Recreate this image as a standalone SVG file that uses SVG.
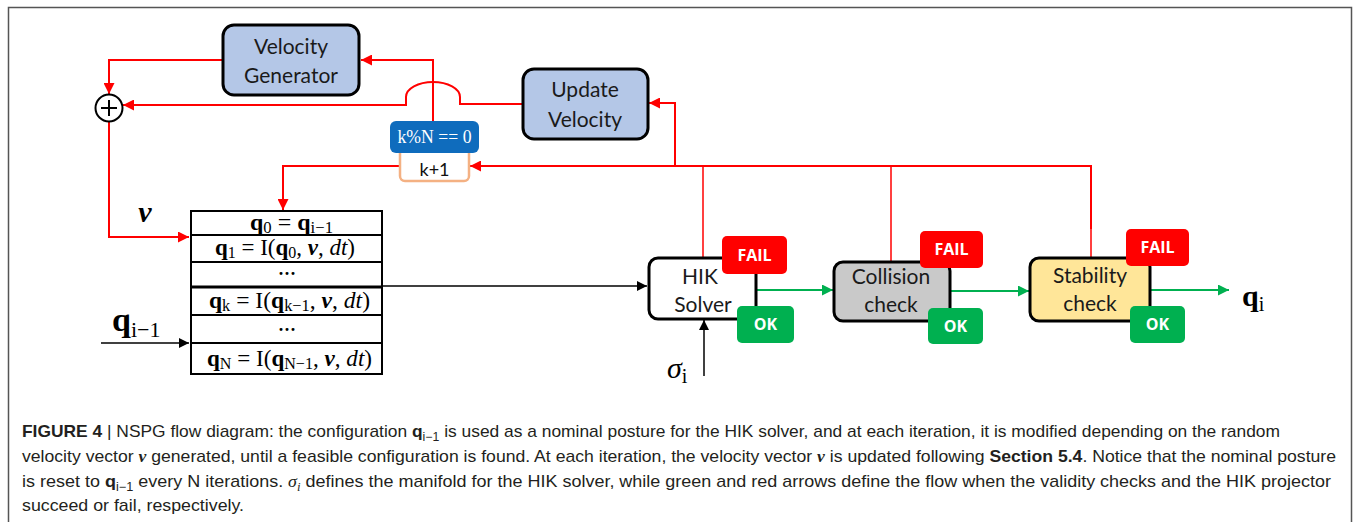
<svg xmlns="http://www.w3.org/2000/svg" width="1356" height="522" viewBox="0 0 1356 522">
<style>
  .blk { fill: #b4c7e7; stroke: #000; stroke-width: 3; }
  .lbl { font-family: Lato, "Open Sans", sans-serif; font-size: 21px; fill: #1a1a1a; text-anchor: middle; }
  .badge { font-family: "Open Sans", "Liberation Sans", sans-serif; font-size: 16px; font-weight: bold; fill: #fff; text-anchor: middle; }
  .math { font-family: "Liberation Serif", "DejaVu Serif", serif; font-size: 23px; fill: #000; }
  .dots { font-family: "Liberation Serif", serif; font-size: 18px; font-weight: bold; fill: #000; text-anchor: middle; }
  .red { fill: none; stroke: #f00; stroke-width: 2; }
  .redt { fill: none; stroke: #f00; stroke-width: 1.5; }
  .grn { fill: none; stroke: #00b050; stroke-width: 2; }
  .blkl { fill: none; stroke: #000; stroke-width: 1.5; }
  .cap { font-family: "Liberation Sans", Arial, sans-serif; font-size: 17px; fill: #231f20; }
  .mi { font-family: "Liberation Serif", serif; font-style: italic; font-weight: bold; }
</style>
<defs>
  <marker id="ar" viewBox="0 0 10 10" refX="10" refY="5" markerWidth="11" markerHeight="11" markerUnits="userSpaceOnUse" orient="auto"><path d="M0,0 L10,5 L0,10 z" fill="#f00"/></marker>
  <marker id="ag" viewBox="0 0 10 10" refX="10" refY="5" markerWidth="11" markerHeight="11" markerUnits="userSpaceOnUse" orient="auto"><path d="M0,0 L10,5 L0,10 z" fill="#00b050"/></marker>
  <marker id="ak" viewBox="0 0 10 10" refX="10" refY="5" markerWidth="10" markerHeight="10" markerUnits="userSpaceOnUse" orient="auto"><path d="M0,0 L10,5 L0,10 z" fill="#000"/></marker>
</defs>

<rect width="1356" height="522" fill="#fff"/>
<!-- frame -->
<path d="M8.5 530 V7.5 H1351.5 V530" fill="none" stroke="#555" stroke-width="1.5"/>

<!-- connectors -->
<g id="connectors">
  <path class="red" d="M222 60 H109 V94" marker-end="url(#ar)"/>
  <path class="red" d="M523 104 H460 V97 A27 15 0 0 0 406 97 V105 H123" marker-end="url(#ar)"/>
  <path class="red" d="M109 122 V237 H189" marker-end="url(#ar)"/>
  <path class="red" d="M433 121 V60 H361" marker-end="url(#ar)"/>
  <path class="red" d="M399 166 H283 V210" marker-end="url(#ar)"/>
  <path class="red" d="M1091 229 V166 H470" marker-end="url(#ar)"/>
  <path class="redt" d="M891 262 V166"/>
  <path class="redt" d="M703 258 V166"/>
  <path class="redt" d="M1091 258 V229"/>
  <path class="red" d="M675 166 V103 H649" marker-end="url(#ar)"/>
  <path class="blkl" d="M382 286 H647" marker-end="url(#ak)"/>
  <path class="blkl" d="M101 343 H189" marker-end="url(#ak)"/>
  <path class="blkl" d="M704 376 V320" marker-end="url(#ak)"/>
  <path class="grn" d="M757 290 H833" marker-end="url(#ag)"/>
  <path class="grn" d="M950 291 H1029" marker-end="url(#ag)"/>
  <path class="grn" d="M1150 290 H1229" marker-end="url(#ag)"/>
</g>

<!-- velocity generator -->
<g id="velocity-generator">
  <rect class="blk" x="223" y="25" width="136" height="70" rx="11"/>
  <text class="lbl" x="291" y="54">Velocity</text>
  <text class="lbl" x="291" y="83">Generator</text>
</g>

<!-- summing junction -->
<g id="sum">
  <circle cx="109" cy="108" r="13.5" fill="#fff" stroke="#000" stroke-width="2"/>
  <path d="M101 108 H117 M109 100 V116" stroke="#000" stroke-width="2"/>
</g>

<!-- update velocity -->
<g id="update-velocity">
  <rect class="blk" x="523" y="69" width="125" height="70" rx="11"/>
  <text class="lbl" x="585" y="97">Update</text>
  <text class="lbl" x="585" y="127">Velocity</text>
</g>

<!-- counter -->
<g id="counter">
  <rect x="400" y="145" width="69" height="36" rx="5" fill="#fff" stroke="#f4b183" stroke-width="2.5"/>
  <rect x="390" y="121" width="89" height="32" rx="6" fill="#0f6cbd"/>
  <text x="434.5" y="143" font-family="Liberation Serif, serif" font-size="18" fill="#fff" text-anchor="middle" textLength="74" lengthAdjust="spacingAndGlyphs">k%N == 0</text>
  <text x="434.5" y="176" font-family="Lato, sans-serif" font-size="18" fill="#111" text-anchor="middle">k+1</text>
</g>

<!-- integration table -->
<g id="table">
  <rect x="191" y="211" width="191" height="163" fill="#fff" stroke="#000" stroke-width="2"/>
  <path d="M191 235 H382 M191 262 H382 M191 315 H382 M191 343 H382" stroke="#000" stroke-width="2"/>
  <path d="M191 287 H382" stroke="#000" stroke-width="3"/>
  <text class="math" x="250" y="230" textLength="83" lengthAdjust="spacingAndGlyphs"><tspan font-weight="bold">q</tspan><tspan font-size="16" dy="3">0</tspan><tspan dy="-3"> = </tspan><tspan font-weight="bold">q</tspan><tspan font-size="16" dy="3">i−1</tspan></text>
  <text class="math" x="215" y="255" textLength="140" lengthAdjust="spacingAndGlyphs"><tspan font-weight="bold">q</tspan><tspan font-size="16" dy="3">1</tspan><tspan dy="-3"> = I(</tspan><tspan font-weight="bold">q</tspan><tspan font-size="16" dy="3">0</tspan><tspan dy="-3">, </tspan><tspan class="mi">ν</tspan>, <tspan font-style="italic">dt</tspan>)</text>
  <text class="dots" x="287" y="280">···</text>
  <text class="math" x="209" y="308" textLength="161" lengthAdjust="spacingAndGlyphs"><tspan font-weight="bold">q</tspan><tspan font-size="16" dy="3">k</tspan><tspan dy="-3"> = I(</tspan><tspan font-weight="bold">q</tspan><tspan font-size="16" dy="3">k−1</tspan><tspan dy="-3">, </tspan><tspan class="mi">ν</tspan>, <tspan font-style="italic">dt</tspan>)</text>
  <text class="dots" x="287" y="336">···</text>
  <text class="math" x="207" y="366" textLength="165" lengthAdjust="spacingAndGlyphs"><tspan font-weight="bold">q</tspan><tspan font-size="16" dy="3">N</tspan><tspan dy="-3"> = I(</tspan><tspan font-weight="bold">q</tspan><tspan font-size="16" dy="3">N−1</tspan><tspan dy="-3">, </tspan><tspan class="mi">ν</tspan>, <tspan font-style="italic">dt</tspan>)</text>
</g>

<!-- input labels -->
<g id="labels">
  <text x="145" y="222" font-family="Liberation Serif, serif" font-size="30" font-style="italic" font-weight="bold" text-anchor="middle">ν</text>
  <text x="112" y="331" font-family="Liberation Serif, serif" font-size="34" font-weight="bold">q<tspan font-size="22" font-weight="normal" dy="6">i−1</tspan></text>
  <text x="667" y="378" font-family="Liberation Serif, serif" font-size="30" font-style="italic">σ<tspan font-size="20" font-style="normal" dy="5">i</tspan></text>
  <text x="1242" y="306" font-family="Liberation Serif, serif" font-size="30" font-weight="bold">q<tspan font-size="20" font-weight="normal" dy="5">i</tspan></text>
</g>

<!-- HIK solver -->
<g id="hik-solver">
  <rect x="649" y="258" width="107" height="61" rx="9" fill="#fff" stroke="#000" stroke-width="3"/>
  <text class="lbl" x="700" y="284">HIK</text>
  <text class="lbl" x="703" y="312">Solver</text>
  <rect x="722" y="236" width="65" height="38" rx="5" fill="#f00"/>
  <text class="badge" x="754.5" y="261">FAIL</text>
  <rect x="737" y="306" width="57" height="37" rx="5" fill="#00b050"/>
  <text class="badge" x="765.5" y="330">OK</text>
</g>

<!-- collision check -->
<g id="collision-check">
  <rect x="834" y="262" width="116" height="59" rx="9" fill="#c9c9c9" stroke="#000" stroke-width="3"/>
  <text class="lbl" x="891" y="284">Collision</text>
  <text class="lbl" x="891" y="312">check</text>
  <rect x="920" y="231" width="63" height="37" rx="5" fill="#f00"/>
  <text class="badge" x="951.5" y="255">FAIL</text>
  <rect x="928" y="308" width="55" height="36" rx="5" fill="#00b050"/>
  <text class="badge" x="955.5" y="332">OK</text>
</g>

<!-- stability check -->
<g id="stability-check">
  <rect x="1030" y="258" width="120" height="63" rx="9" fill="#ffe699" stroke="#000" stroke-width="3"/>
  <text class="lbl" x="1090" y="283">Stability</text>
  <text class="lbl" x="1090" y="311">check</text>
  <rect x="1126" y="229" width="63" height="37" rx="5" fill="#f00"/>
  <text class="badge" x="1157.5" y="253">FAIL</text>
  <rect x="1130" y="306" width="55" height="37" rx="5" fill="#00b050"/>
  <text class="badge" x="1157.5" y="330">OK</text>
</g>

<!-- caption -->
<g id="caption" class="cap">
  <text x="22" y="437" textLength="1258" lengthAdjust="spacingAndGlyphs"><tspan font-weight="bold">FIGURE 4</tspan> | NSPG flow diagram: the configuration <tspan font-weight="bold">q</tspan><tspan font-size="12" dy="4">i−1</tspan><tspan dy="-4"> is used as a nominal posture for the HIK solver, and at each iteration, it is modified depending on the random</tspan></text>
  <text x="22" y="462" textLength="1314" lengthAdjust="spacingAndGlyphs">velocity vector <tspan class="mi">ν</tspan> generated, until a feasible configuration is found. At each iteration, the velocity vector <tspan class="mi">ν</tspan> is updated following <tspan font-weight="bold">Section 5.4</tspan>. Notice that the nominal posture</text>
  <text x="22" y="487" textLength="1309" lengthAdjust="spacingAndGlyphs">is reset to <tspan font-weight="bold">q</tspan><tspan font-size="12" dy="4">i−1</tspan><tspan dy="-4"> every N iterations. </tspan><tspan font-family="Liberation Serif, serif" font-style="italic">σ</tspan><tspan font-family="Liberation Serif, serif" font-style="italic" font-size="12" dy="4">i</tspan><tspan dy="-4"> defines the manifold for the HIK solver, while green and red arrows define the flow when the validity checks and the HIK projector</tspan></text>
  <text x="22" y="511" textLength="222" lengthAdjust="spacingAndGlyphs">succeed or fail, respectively.</text>
</g>
</svg>
